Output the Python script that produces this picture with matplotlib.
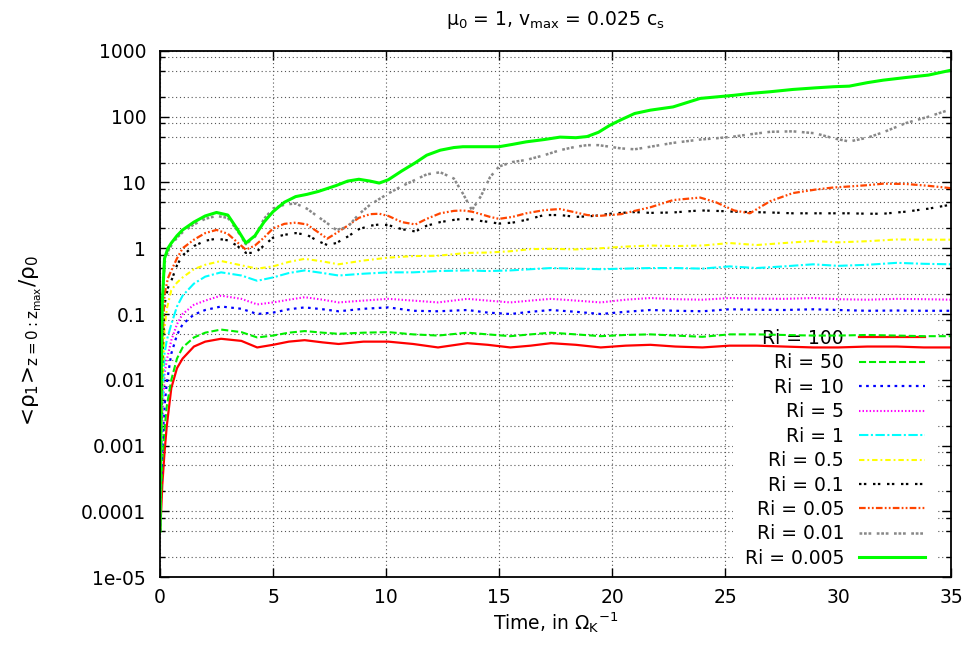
import matplotlib
matplotlib.use('Agg')
import matplotlib.pyplot as plt
from matplotlib.ticker import FixedLocator, FixedFormatter

plt.rcParams['font.family'] = ['DejaVu Sans']
plt.rcParams['mathtext.fontset'] = 'dejavusans'

# Time samples (in 1/Omega_K) for the slowly varying runs
t_slow = [0, 0.05, 0.1, 0.2, 0.3, 0.5, 0.75, 1, 1.5, 2, 2.7, 3.6, 4.3, 5, 5.7, 6.4,
          7.2, 7.9, 9, 10.1, 11.2, 12.3, 13.6, 14.5, 15.5, 16.4, 17.3, 18.4, 19.5,
          20.6, 21.7, 22.8, 24, 25.2, 26.4, 27.6, 28.9, 30, 31.3, 32.6, 33.8, 35]

ri_100 = [5e-5, 1e-4, 2.5e-4, 8e-4, 0.002, 0.0075, 0.015, 0.021, 0.032, 0.038, 0.042,
          0.039, 0.031, 0.034, 0.038, 0.040, 0.037, 0.035, 0.038, 0.038, 0.035, 0.031,
          0.036, 0.034, 0.031, 0.033, 0.036, 0.034, 0.031, 0.033, 0.034, 0.032, 0.031,
          0.033, 0.033, 0.032, 0.031, 0.031, 0.032, 0.032, 0.031, 0.031]
ri_50 = [5e-5, 2e-4, 6e-4, 0.0018, 0.004, 0.01, 0.021, 0.031, 0.044, 0.052, 0.058,
         0.053, 0.044, 0.047, 0.052, 0.055, 0.052, 0.050, 0.052, 0.053, 0.049, 0.047,
         0.052, 0.049, 0.046, 0.049, 0.052, 0.049, 0.046, 0.048, 0.049, 0.047, 0.045,
         0.049, 0.049, 0.048, 0.047, 0.047, 0.048, 0.047, 0.046, 0.046]
ri_10 = [5e-5, 3e-4, 0.001, 0.004, 0.009, 0.025, 0.048, 0.07, 0.098, 0.115, 0.13,
         0.12, 0.10, 0.105, 0.118, 0.126, 0.118, 0.11, 0.12, 0.126, 0.112, 0.11,
         0.115, 0.105, 0.10, 0.108, 0.115, 0.108, 0.10, 0.108, 0.115, 0.112, 0.11,
         0.118, 0.116, 0.115, 0.118, 0.115, 0.112, 0.113, 0.112, 0.112]
ri_5 = [5e-5, 5e-4, 0.002, 0.012, 0.02, 0.04, 0.07, 0.10, 0.138, 0.16, 0.19,
        0.17, 0.14, 0.15, 0.165, 0.18, 0.165, 0.15, 0.16, 0.17, 0.16, 0.15,
        0.17, 0.16, 0.15, 0.16, 0.17, 0.16, 0.15, 0.165, 0.175, 0.168, 0.165,
        0.175, 0.172, 0.17, 0.175, 0.168, 0.165, 0.17, 0.168, 0.165]
ri_1 = [5e-5, 8e-4, 0.004, 0.025, 0.04, 0.07, 0.13, 0.19, 0.29, 0.37, 0.43,
        0.385, 0.32, 0.36, 0.42, 0.46, 0.42, 0.385, 0.41, 0.43, 0.43, 0.45,
        0.46, 0.45, 0.46, 0.48, 0.50, 0.49, 0.48, 0.49, 0.50, 0.50, 0.49,
        0.53, 0.50, 0.53, 0.57, 0.54, 0.56, 0.60, 0.58, 0.57]
ri_05 = [5e-5, 0.001, 0.008, 0.06, 0.12, 0.23, 0.30, 0.36, 0.48, 0.56, 0.64,
         0.55, 0.49, 0.53, 0.62, 0.69, 0.63, 0.57, 0.65, 0.72, 0.76, 0.77,
         0.85, 0.86, 0.90, 0.97, 0.98, 0.96, 1.00, 1.06, 1.10, 1.08, 1.10,
         1.20, 1.12, 1.20, 1.29, 1.23, 1.28, 1.36, 1.35, 1.35]

# Time samples for the strongly growing runs
t_fast = [0, 0.05, 0.1, 0.2, 0.35, 0.5, 0.75, 1, 1.5, 2, 2.5, 3, 3.4, 3.8, 4.2, 4.6,
          5, 5.5, 6, 6.5, 7, 7.4, 7.8, 8.3, 8.8, 9.3, 9.7, 10.1, 10.7, 11.3, 11.8,
          12.4, 13, 13.4, 13.8, 14.2, 14.6, 15, 15.6, 16.2, 17, 17.7, 18.4, 18.9,
          19.4, 19.9, 20.4, 21, 21.7, 22.7, 23.9, 24.6, 25.4, 26.1, 27, 28, 29,
          29.8, 30.5, 31.3, 32, 33, 34, 35]

ri_01 = [5e-5, 0.002, 0.02, 0.14, 0.25, 0.32, 0.55, 0.78, 1.08, 1.3, 1.4, 1.32, 1.1,
         0.85, 0.85, 1.1, 1.45, 1.6, 1.7, 1.6, 1.28, 1.12, 1.2, 1.5, 1.95, 2.2, 2.3,
         2.25, 1.95, 1.8, 2.2, 2.5, 2.7, 2.8, 2.75, 2.6, 2.5, 2.37, 2.45, 2.7, 3.2,
         3.2, 3.0, 3.05, 3.15, 3.35, 3.45, 3.55, 3.45, 3.5, 3.76, 3.7, 3.6, 3.55,
         3.5, 3.4, 3.4, 3.4, 3.4, 3.35, 3.35, 3.6, 4.0, 4.6]
ri_005 = [5e-5, 0.003, 0.03, 0.2, 0.35, 0.46, 0.7, 1.0, 1.35, 1.7, 1.9, 1.66, 1.25,
          0.95, 1.1, 1.45, 2.0, 2.35, 2.45, 2.3, 1.75, 1.4, 1.7, 2.2, 2.9, 3.3, 3.35,
          3.1, 2.5, 2.3, 2.8, 3.4, 3.7, 3.76, 3.6, 3.3, 3.0, 2.8, 3.0, 3.4, 3.8,
          3.95, 3.5, 3.2, 3.1, 3.2, 3.3, 3.7, 4.2, 5.4, 5.9, 5.0, 3.76, 3.4, 5.2,
          6.9, 7.8, 8.4, 8.7, 9.1, 9.6, 9.5, 8.9, 8.2]
ri_001 = [5e-5, 0.008, 0.12, 0.6, 0.9, 1.1, 1.45, 1.75, 2.3, 2.8, 3.1, 2.9, 1.9,
          1.15, 1.5, 2.8, 4.0, 4.6, 4.8, 4.0, 3.0, 2.4, 1.9, 2.1, 3.3, 4.6, 5.6,
          6.8, 8.8, 11, 13.3, 14.3, 11.5, 6.8, 3.8, 6.2, 12, 17.5, 20.5, 22, 26,
          31, 35, 37, 37, 35, 33, 32, 35, 40, 45, 47, 50, 54, 59, 60, 56, 47, 42,
          48, 58, 80, 100, 130]
ri_0005 = [5e-5, 0.01, 0.15, 0.7, 1.0, 1.2, 1.55, 1.9, 2.5, 3.1, 3.5, 3.2, 2.0,
           1.2, 1.55, 2.5, 3.6, 5.0, 6.1, 6.6, 7.3, 8.1, 9.0, 10.5, 11.2, 10.5, 9.8,
           11, 15, 20, 26, 31, 34, 35, 35, 35, 35, 35, 38, 41.5, 45, 49, 48, 50, 58,
           74, 90, 112, 126, 141, 190, 200, 212, 226, 240, 260, 275, 286, 292, 330,
           360, 395, 430, 510]

labels = ['Ri = 100', 'Ri = 50', 'Ri = 10', 'Ri = 5', 'Ri = 1', 'Ri = 0.5',
          'Ri = 0.1', 'Ri = 0.05', 'Ri = 0.01', 'Ri = 0.005']

y_ticks = [1e-5, 1e-4, 1e-3, 1e-2, 1e-1, 1, 10, 100, 1000]
y_tick_labels = ['1e-05', '0.0001', '0.001', '0.01', '0.1', '1', '10', '100', '1000']
x_ticks = [0, 5, 10, 15, 20, 25, 30, 35]

# line styles, gnuplot-like
styles = [
    ('#ff0000', '-', 1.6),
    ('#00ee00', (0, (3.4, 1.4)), 1.5),
    ('#0000ff', (0, (1.2, 2.0)), 1.6),
    ('#ff00ff', (0, (0.7, 1.0)), 1.5),
    ('#00ffff', (0, (4.5, 1.2, 1.0, 1.2)), 1.5),
    ('#ffff00', (0, (2.6, 1.4, 0.9, 1.4)), 1.5),
    ('#000000', (0, (1.1, 1.1, 1.1, 3.0)), 1.6),
    ('#ff4500', (0, (3.0, 1.0, 0.8, 1.0, 0.8, 1.0)), 1.6),
    ('#888888', (0, (1.1, 0.7, 1.1, 0.7, 1.1, 2.2)), 1.8),
    ('#00ff00', '-', 2.2),
]

series = [(t_slow, ri_100), (t_slow, ri_50), (t_slow, ri_10), (t_slow, ri_5),
          (t_slow, ri_1), (t_slow, ri_05), (t_fast, ri_01), (t_fast, ri_005),
          (t_fast, ri_001), (t_fast, ri_0005)]

FS = 13.5

fig = plt.figure(figsize=(9.71, 6.52), dpi=100)
ax = fig.add_axes([0.1648, 0.115, 0.8146, 0.8068])

for (t, v), lab, (col, ls, lw) in zip(series, labels, styles):
    ax.plot(t, v, color=col, linestyle=ls, linewidth=lw, label=lab)

ax.set_yscale('log')
ax.set_xlim(0, 35)
ax.set_ylim(1e-5, 1000)

minor = [m * 10.0 ** k for k in range(-5, 3) for m in (2, 5, 8)]
ax.yaxis.set_major_locator(FixedLocator(y_ticks))
ax.yaxis.set_major_formatter(FixedFormatter(y_tick_labels))
ax.yaxis.set_minor_locator(FixedLocator(minor))
ax.yaxis.set_minor_formatter(FixedFormatter([''] * len(minor)))
ax.xaxis.set_major_locator(FixedLocator(x_ticks))
ax.set_xticklabels([str(x) for x in x_ticks])

ax.tick_params(which='both', direction='in', top=True, right=True, labelsize=FS)
ax.tick_params(which='major', length=6.5, width=1.0)
ax.tick_params(which='minor', length=3.5, width=1.0)
ax.tick_params(axis='y', pad=10)
ax.tick_params(axis='x', pad=8)

ax.set_axisbelow(True)
ax.grid(True, which='major', axis='both', color='#555555', linestyle=(0, (1, 2.5)), linewidth=0.8)
ax.grid(True, which='minor', axis='y', color='#555555', linestyle=(0, (1, 2.5)), linewidth=0.8)

for sp in ax.spines.values():
    sp.set_linewidth(1.3)

ax.set_title(r'μ$_0$ = 1, v$_{\mathrm{max}}$ = 0.025 c$_\mathrm{s}$', fontsize=FS, pad=19)
ax.set_xlabel(r'Time, in Ω$_\mathrm{K}$$^{\mathrm{-1}}$', fontsize=FS, labelpad=2)
ax.set_ylabel(r'<ρ$_1$>$_{\mathrm{z=0:z_{max}}}$/ρ$_0$', fontsize=15.5)
ax.yaxis.set_label_coords(-0.147, 0.45)

leg = ax.legend(loc='lower right', bbox_to_anchor=(0.981, -0.004), markerfirst=False,
                fontsize=FS, handlelength=3.5, handletextpad=0.8, labelspacing=0.29,
                borderpad=0.6, borderaxespad=0, frameon=True, fancybox=False,
                framealpha=1.0, edgecolor='none', facecolor='white')
leg.set_zorder(1.5)

fig.savefig('out.png', dpi=100)
